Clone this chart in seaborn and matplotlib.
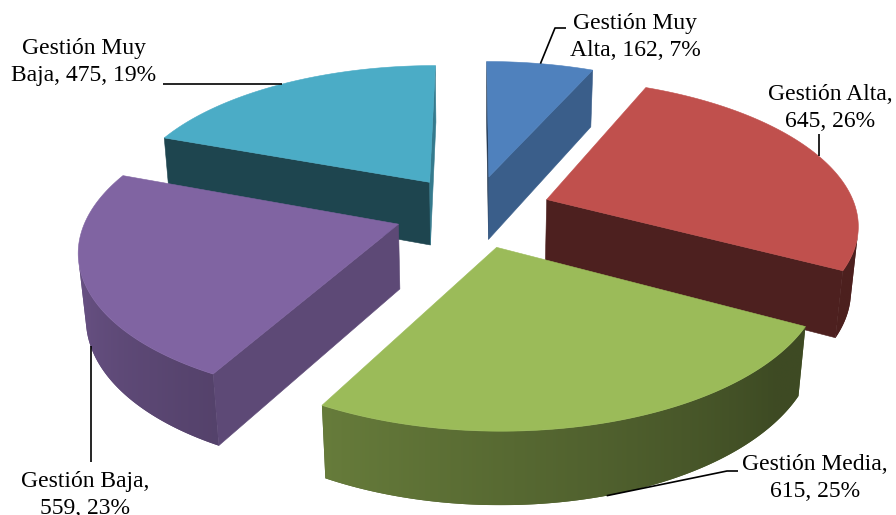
import numpy as np
import matplotlib
matplotlib.use("Agg")
import matplotlib.pyplot as plt
import seaborn as sns
from matplotlib.patches import Polygon

# ---- data ----
categories = ["Gestión Muy Alta", "Gestión Alta", "Gestión Media", "Gestión Baja", "Gestión Muy Baja"]
values = [162, 645, 615, 559, 475]
percents = ["7%", "26%", "25%", "23%", "19%"]
colors = ["#4F81BD", "#C0504D", "#9BBB59", "#8064A2", "#4BACC6"]

# ---- 3D view (camera / styling) ----
cx, cy, P, D, e = 473.2, 211.2, 1781.2, 5.747, 0.4795
explode, thick = 0.254, 0.2377

# label layout: text centre and leader knee points (figure pixels)
label_pos = [(635, 37), (830, 108), (815, 478), (85, 495), (84, 62)]
leader_knees = [[(555, 28), (566, 28)], [None], [(727, 471), (738, 471)], [None], [(163, None)]]
leader_end_y = [None, 134, None, 462, None]

sns.set_theme(style="white")
plt.rcParams['font.family'] = ['Liberation Serif', 'DejaVu Serif']

vals = np.array(values, float)
cum = np.concatenate([[0], np.cumsum(vals)]) / vals.sum() * 360
mids = (cum[:-1] + cum[1:]) / 2

fig = plt.figure(figsize=(8.96, 5.15), dpi=100)
ax = fig.add_axes([0, 0, 1, 1])
ax.set_xlim(0, 896); ax.set_ylim(515, 0); ax.axis('off')

cam = np.array([0.0, -D*np.cos(e), D*np.sin(e)])

def proj(X, Y, Z):
    X = np.asarray(X, float); Y = np.asarray(Y, float); Z = np.asarray(Z, float)
    depth = D + Y*np.cos(e) - Z*np.sin(e)
    return np.column_stack([cx + P*X/depth, cy - P*(Y*np.sin(e) + Z*np.cos(e))/depth])

def shade(c, f):
    rgb = np.array(matplotlib.colors.to_rgb(c))
    return tuple(np.clip(rgb*f, 0, 1))

def visible(normal_deg, pt):
    n = np.array([np.sin(np.deg2rad(normal_deg)), np.cos(np.deg2rad(normal_deg)), 0.0])
    return np.dot(n, cam - pt) > 0

def wall_shade(phi):
    return 0.40 + 0.47*np.clip(((phi % 360) - 130)/140, 0, 1)

order = np.argsort([-((explode + 0.5)*np.cos(np.deg2rad(m))) for m in mids])
zc = 1
for i in order:
    t1, t2 = cum[i], cum[i+1]
    m = np.deg2rad(mids[i])
    ox, oy = explode*np.sin(m), explode*np.cos(m)
    n = max(40, int((t2-t1)/0.5))
    thd = np.linspace(t1, t2, n)
    th = np.deg2rad(thd)
    rx, ry = ox + np.sin(th), oy + np.cos(th)
    col = colors[i]
    # radial faces
    for ang, nd in ((t1, t1-90), (t2, t2+90)):
        a = np.deg2rad(ang)
        if visible(nd, np.array([ox, oy, -thick/2])):
            X = [ox, ox+np.sin(a), ox+np.sin(a), ox]
            Y = [oy, oy+np.cos(a), oy+np.cos(a), oy]
            Z = [0, 0, -thick, -thick]
            f = 0.40 + 0.33*max(0.0, np.cos(np.deg2rad(nd - 110)))
            ax.add_patch(Polygon(proj(X, Y, Z), closed=True, fc=shade(col, f), ec=shade(col, f),
                                 lw=0.4, zorder=zc))
    # outer curved wall (visible part) with a horizontal gradient
    vis = np.array([visible(p_, np.array([ox+np.sin(np.deg2rad(p_)), oy+np.cos(np.deg2rad(p_)), -thick/2]))
                    for p_ in thd])
    if vis.sum() >= 2:
        idx = np.where(vis)[0]
        top = proj(rx[idx], ry[idx], np.zeros(len(idx)))
        bot = proj(rx[idx], ry[idx], np.full(len(idx), -thick))
        poly = np.vstack([top, bot[::-1]])
        fs = wall_shade(thd[idx])
        xs_ = top[:, 0]
        srt = np.argsort(xs_)
        xmin, xmax = poly[:, 0].min(), poly[:, 0].max()
        ymin, ymax = poly[:, 1].min(), poly[:, 1].max()
        gx = np.linspace(xmin, xmax, 400)
        gf = np.interp(gx, xs_[srt], fs[srt])
        base = np.array(matplotlib.colors.to_rgb(col))
        img = np.clip(gf[:, None]*base[None, :], 0, 1)[None, :, :]
        mean_c = tuple(np.clip(base*fs.mean(), 0, 1))
        patch = Polygon(poly, closed=True, fc=mean_c, ec='none', lw=0, zorder=zc)
        ax.add_patch(patch)
        im = ax.imshow(img, extent=(xmin, xmax, ymax, ymin), aspect='auto',
                       interpolation='bilinear', zorder=zc, origin='upper')
        im.set_clip_path(patch)
    # top face
    X = np.concatenate([[ox], rx]); Y = np.concatenate([[oy], ry]); Z = np.zeros(len(X))
    ax.add_patch(Polygon(proj(X, Y, Z), closed=True, fc=col, ec=col, lw=0.4, zorder=zc + 0.5))
    zc += 1

ax.set_xlim(0, 896); ax.set_ylim(515, 0)

# ---- labels and leader lines ----
for i, (cat, v, pc) in enumerate(zip(categories, values, percents)):
    words = cat.split()
    if len(words) == 3:
        txt = f"{words[0]} {words[1]}\n{words[2]}, {v}, {pc}"
    else:
        txt = f"{cat},\n{v}, {pc}"
    lx, ly = label_pos[i]
    ax.text(lx, ly, txt, ha='center', va='center', multialignment='center',
            fontsize=17, color='black', linespacing=1.33, zorder=20)
    m = np.deg2rad(mids[i])
    ax_ = (explode + 1)*np.sin(m); ay_ = (explode + 1)*np.cos(m)
    az_ = -thick if np.cos(m) < 0 else 0.0
    anc = proj([ax_], [ay_], [az_])[0]
    pts = [tuple(anc)]
    if leader_end_y[i] is not None:
        pts.append((anc[0], leader_end_y[i]))
    else:
        for kx, ky in leader_knees[i]:
            pts.append((kx, anc[1] if ky is None else ky))
    xs, ys = zip(*pts)
    ax.plot(xs, ys, color='black', lw=1.2, solid_capstyle='butt', zorder=20)

fig.savefig("out.png", dpi=100)
